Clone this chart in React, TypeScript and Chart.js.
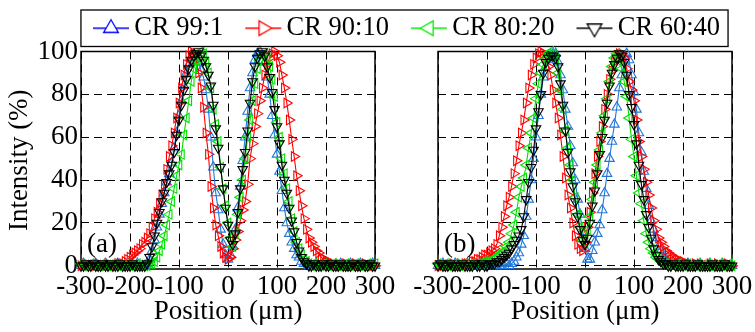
import { useEffect, useRef } from 'react';
import { Chart, registerables } from 'chart.js';

Chart.register(...registerables);

const FONT = '"Liberation Serif", "Times New Roman", serif';

const positions = [
  -300, -295, -290, -285, -280, -275, -270, -265, -260, -255,
  -250, -245, -240, -235, -230, -225, -220, -215, -210, -205,
  -200, -195, -190, -185, -180, -175, -170, -165, -160, -155,
  -150, -145, -140, -135, -130, -125, -120, -115, -110, -105,
  -100, -95, -90, -85, -80, -75, -70, -65, -60, -55,
  -50, -45, -40, -35, -30, -25, -20, -15, -10, -5,
  0, 5, 10, 15, 20, 25, 30, 35, 40, 45,
  50, 55, 60, 65, 70, 75, 80, 85, 90, 95,
  100, 105, 110, 115, 120, 125, 130, 135, 140, 145,
  150, 155, 160, 165, 170, 175, 180, 185, 190, 195,
  200, 205, 210, 215, 220, 225, 230, 235, 240, 245,
  250, 255, 260, 265, 270, 275, 280, 285, 290, 295,
  300,
];

const xTicks = [-300, -200, -100, 0, 100, 200, 300];
const yTicks = [0, 20, 40, 60, 80, 100];
const seriesLabels = ['CR 99:1', 'CR 90:10', 'CR 80:20', 'CR 60:40'];

// Panel (a)
const aCR99 = [
  0, 1, 0, 0, 0, 0, 1, 0, 0, 0,
  1, 0, 0, 0, 0, 1, 0, 0, 0, 0,
  0, 0, 0, 1, 0, 0, 0, 1, 3, 7,
  12, 18, 24, 29, 34, 39, 43, 48, 55, 62,
  70, 77, 84, 90, 94, 97, 98, 97, 95, 91,
  88, 82, 73, 60, 46, 34, 26, 17, 10, 5,
  3, 5, 9, 17, 27, 37, 49, 60, 72, 83,
  90, 96, 99, 100, 98, 95, 88, 80, 70, 61,
  52, 44, 35, 27, 20, 15, 11, 8, 5, 4,
  2, 1, 1, 0, 0, 0, 1, 0, 0, 0,
  0, 1, 0, 0, 0, 0, 1, 0, 0, 0,
  1, 0, 0, 0, 1, 0, 0, 0, 0, 1,
  0,
];
const aCR90 = [
  0, 0, 1, 0, 0, 0, 0, 1, 0, 0,
  0, 1, 0, 0, 0, 1, 1, 1, 2, 3,
  4, 5, 6, 7, 8, 10, 11, 13, 15, 18,
  22, 25, 29, 33, 38, 45, 51, 56, 62, 69,
  76, 83, 89, 94, 98, 100, 99, 96, 90, 83,
  74, 62, 52, 37, 27, 19, 14, 9, 6, 4,
  3, 4, 8, 12, 16, 21, 26, 30, 38, 50,
  57, 65, 71, 77, 83, 89, 94, 97, 99, 100,
  98, 95, 89, 83, 76, 68, 59, 51, 42, 35,
  28, 22, 17, 13, 11, 9, 7, 6, 4, 3,
  2, 2, 1, 1, 0, 1, 0, 0, 1, 0,
  0, 0, 1, 0, 0, 0, 1, 0, 0, 0,
  0,
];
const aCR80 = [
  1, 0, 0, 0, 1, 0, 0, 0, 0, 1,
  0, 0, 0, 1, 0, 0, 0, 0, 1, 0,
  0, 0, 0, 1, 0, 0, 0, 0, 1, 1,
  2, 4, 7, 10, 14, 19, 24, 30, 36, 42,
  47, 52, 61, 69, 77, 86, 92, 96, 98, 100,
  99, 95, 90, 83, 73, 66, 58, 46, 36, 28,
  20, 13, 9, 15, 24, 32, 40, 50, 60, 68,
  77, 85, 92, 96, 98, 99, 97, 93, 87, 79,
  67, 60, 50, 43, 36, 30, 22, 16, 11, 8,
  5, 3, 2, 1, 0, 1, 0, 0, 0, 1,
  0, 0, 0, 1, 0, 0, 0, 0, 1, 0,
  0, 0, 1, 0, 0, 0, 0, 1, 0, 0,
  1,
];
const aCR60 = [
  0, 0, 1, 0, 0, 1, 0, 0, 0, 1,
  0, 0, 1, 0, 0, 0, 1, 0, 0, 0,
  0, 1, 0, 0, 0, 0, 0, 1, 4, 9,
  14, 20, 25, 30, 34, 39, 43, 47, 53, 61,
  68, 75, 82, 87, 92, 96, 98, 99, 100, 98,
  96, 93, 89, 84, 75, 64, 55, 46, 36, 27,
  19, 12, 10, 15, 25, 36, 45, 53, 63, 76,
  86, 93, 97, 99, 100, 98, 93, 88, 81, 73,
  65, 57, 47, 40, 34, 27, 21, 16, 11, 7,
  4, 2, 1, 0, 0, 1, 0, 0, 0, 1,
  0, 0, 1, 0, 0, 0, 1, 0, 0, 0,
  0, 1, 0, 0, 0, 1, 0, 0, 1, 0,
  0,
];

// Panel (b)
const bCR99 = [
  0, 0, 1, 0, 0, 0, 0, 1, 0, 0,
  0, 0, 1, 0, 0, 0, 0, 1, 0, 0,
  0, 0, 1, 0, 0, 0, 0, 0, 1, 0,
  1, 2, 4, 6, 10, 14, 23, 31, 40, 50,
  60, 70, 80, 88, 93, 96, 98, 99, 99, 95,
  89, 82, 73, 65, 56, 48, 40, 31, 24, 16,
  8, 3, 3, 7, 11, 15, 19, 26, 34, 43,
  50, 58, 66, 74, 83, 89, 95, 99, 96, 89,
  81, 73, 62, 53, 44, 36, 28, 21, 17, 13,
  9, 7, 4, 3, 2, 1, 1, 0, 1, 0,
  0, 0, 1, 0, 0, 0, 0, 1, 0, 0,
  0, 1, 0, 0, 0, 0, 1, 0, 0, 0,
  0,
];
const bCR90 = [
  0, 1, 0, 0, 0, 0, 1, 0, 0, 1,
  0, 1, 1, 1, 2, 2, 3, 3, 4, 5,
  5, 6, 7, 8, 10, 14, 18, 23, 28, 32,
  37, 43, 49, 56, 62, 68, 76, 83, 89, 94,
  97, 99, 100, 99, 97, 93, 89, 82, 76, 69,
  61, 51, 41, 33, 27, 20, 14, 10, 8, 7,
  11, 18, 25, 34, 43, 51, 58, 65, 73, 80,
  87, 91, 95, 98, 99, 99, 97, 92, 86, 82,
  77, 68, 58, 51, 45, 39, 33, 27, 21, 17,
  13, 11, 9, 7, 6, 5, 4, 3, 3, 2,
  2, 1, 1, 1, 0, 1, 0, 1, 0, 0,
  0, 1, 0, 0, 1, 0, 0, 0, 1, 0,
  0,
];
const bCR80 = [
  1, 0, 0, 1, 0, 0, 0, 1, 0, 0,
  0, 1, 0, 0, 1, 0, 1, 1, 1, 2,
  2, 2, 3, 3, 4, 5, 6, 7, 9, 11,
  15, 19, 25, 32, 37, 41, 47, 55, 62, 69,
  78, 85, 90, 94, 97, 99, 100, 99, 97, 90,
  82, 73, 63, 55, 47, 40, 32, 24, 18, 12,
  11, 17, 23, 31, 39, 47, 54, 62, 70, 78,
  86, 93, 97, 99, 97, 92, 86, 79, 69, 59,
  51, 42, 34, 29, 21, 15, 11, 8, 6, 4,
  3, 2, 1, 1, 0, 1, 0, 0, 1, 0,
  0, 0, 1, 0, 0, 0, 1, 0, 0, 0,
  1, 0, 0, 0, 0, 1, 0, 0, 0, 1,
  0,
];
const bCR60 = [
  0, 1, 0, 0, 0, 1, 0, 0, 0, 0,
  1, 0, 0, 0, 0, 1, 0, 0, 1, 0,
  0, 1, 1, 1, 2, 2, 3, 4, 5, 6,
  8, 10, 12, 14, 17, 23, 31, 39, 46, 54,
  64, 72, 80, 90, 95, 97, 98, 98, 97, 93,
  85, 75, 63, 53, 44, 37, 30, 23, 17, 12,
  10, 13, 20, 28, 35, 43, 52, 60, 68, 76,
  84, 90, 94, 97, 99, 98, 95, 89, 80, 74,
  66, 57, 47, 38, 31, 24, 18, 13, 8, 5,
  3, 2, 1, 1, 0, 0, 1, 0, 0, 0,
  0, 1, 0, 0, 0, 0, 1, 0, 0, 0,
  0, 0, 1, 0, 0, 0, 0, 1, 0, 0,
  0,
];

const seriesColors = ['#2277d8', '#ff0000', '#00e000', '#000000'];
const legendColors = ['#0000ff', '#ff0000', '#00ee00', '#000000'];
const seriesRotation = [0, 90, -90, 180];
const drawOrder = [4, 3, 2, 1];

function legendMarker(color: string, rotation: number): HTMLCanvasElement {
  const c = document.createElement('canvas');
  c.width = 38;
  c.height = 22;
  const ctx = c.getContext('2d')!;
  ctx.strokeStyle = color;
  ctx.lineWidth = 1.3;
  ctx.beginPath();
  ctx.moveTo(1, 11);
  ctx.lineTo(37, 11);
  ctx.stroke();
  const r = 8.5;
  const rad0 = (rotation * Math.PI) / 180;
  ctx.beginPath();
  for (let k = 0; k < 3; k++) {
    const a = rad0 + (k * 2 * Math.PI) / 3;
    const px = 19 + Math.sin(a) * r;
    const py = 11 - Math.cos(a) * r;
    if (k === 0) ctx.moveTo(px, py);
    else ctx.lineTo(px, py);
  }
  ctx.closePath();
  ctx.fillStyle = '#ffffff';
  ctx.fill();
  ctx.stroke();
  return c;
}

function makeDatasets(panel: number[][]) {
  return panel.map((vals, k) => ({
    label: seriesLabels[k],
    data: positions.map((x, i) => ({ x, y: vals[i] })),
    borderColor: seriesColors[k],
    backgroundColor: 'rgba(0,0,0,0)',
    pointBackgroundColor: 'rgba(0,0,0,0)',
    pointBorderColor: seriesColors[k],
    pointStyle: 'triangle',
    pointRotation: seriesRotation[k],
    pointRadius: 5.5,
    pointBorderWidth: 1.1,
    borderWidth: 1.1,
    tension: 0,
    fill: false,
    clip: false,
    order: drawOrder[k],
  }));
}

const tickFont = { family: FONT, size: 27 };

function xScale() {
  return {
    type: 'linear',
    min: -300,
    max: 300,
    afterBuildTicks: (s: any) => {
      s.ticks = xTicks.map((v) => ({ value: v }));
    },
    afterFit: (s: any) => {
      s.height = 63;
    },
    ticks: { autoSkip: false, maxRotation: 0, minRotation: 0, padding: 2, color: '#000', font: tickFont },
    grid: { color: '#000', lineWidth: 1, drawTicks: false },
    border: { display: false, dash: [8, 5] },
    title: {
      display: true,
      text: 'Position (μm)',
      color: '#000',
      font: tickFont,
      padding: { top: 0, bottom: 4 },
    },
  };
}

function yScale(showLabels: boolean) {
  return {
    type: 'linear',
    min: -1.5,
    max: 100,
    afterBuildTicks: (s: any) => {
      s.ticks = yTicks.map((v) => ({ value: v }));
    },
    afterFit: (s: any) => {
      s.width = showLabels ? 81 : 0;
    },
    ticks: { display: showLabels, padding: 3, color: '#000', font: tickFont },
    grid: { color: '#000', lineWidth: 1, drawTicks: false },
    border: { display: false, dash: [8, 5] },
    title: {
      display: showLabels,
      text: 'Intensity (%)',
      color: '#000',
      font: tickFont,
      padding: { top: 4, bottom: 0 },
    },
  };
}

const framePlugin = {
  id: 'frame',
  beforeDatasetsDraw(chart: any) {
    const { ctx, chartArea } = chart;
    ctx.save();
    ctx.strokeStyle = '#000';
    ctx.lineWidth = 1.5;
    ctx.strokeRect(chartArea.left, chartArea.top, chartArea.right - chartArea.left, chartArea.bottom - chartArea.top);
    ctx.restore();
  },
};

function panelLabel(text: string) {
  return {
    id: 'panelLabel',
    afterDatasetsDraw(chart: any) {
      const { ctx, chartArea } = chart;
      ctx.save();
      ctx.font = `27px ${FONT}`;
      ctx.fillStyle = '#000';
      ctx.textAlign = 'left';
      ctx.textBaseline = 'middle';
      ctx.fillText(text, chartArea.left + 6, chartArea.bottom - 24);
      ctx.restore();
    },
  };
}

const legendBoxPlugin = {
  id: 'legendBox',
  afterDraw(chart: any) {
    const lg = chart.legend;
    const hb = lg && lg.legendHitBoxes;
    if (!hb || !hb.length) return;
    const first = hb[0];
    const last = hb[hb.length - 1];
    const ctx = chart.ctx;
    ctx.save();
    ctx.strokeStyle = '#000';
    ctx.lineWidth = 1.3;
    const left = first.left - 20;
    const right = last.left + last.width + 8;
    const top = first.top - 5;
    const bottom = first.top + first.height + 5;
    ctx.strokeRect(left, top, right - left, bottom - top);
    ctx.restore();
  },
};

export default function App() {
  const refA = useRef<HTMLCanvasElement>(null);
  const refB = useRef<HTMLCanvasElement>(null);

  useEffect(() => {
    Chart.defaults.font.family = FONT;
    const markers = seriesLabels.map((_, k) => legendMarker(legendColors[k], seriesRotation[k]));

    const chartA = new Chart(refA.current as HTMLCanvasElement, {
      type: 'line',
      data: { datasets: makeDatasets([aCR99, aCR90, aCR80, aCR60]) as any },
      options: {
        animation: false,
        responsive: false,
        events: [],
        layout: { padding: { top: -15, left: 0, right: 0, bottom: 0 } },
        scales: {
          x: xScale() as any,
          y: yScale(true) as any,
          yPad: {
            type: 'linear',
            position: 'right',
            display: true,
            ticks: { display: false },
            grid: { display: false, drawTicks: false },
            border: { display: false },
            afterFit: (s: any) => {
              s.width = 446;
            },
          } as any,
        },
        plugins: {
          tooltip: { enabled: false },
          legend: {
            display: true,
            position: 'top',
            align: 'center',
            labels: {
              usePointStyle: true,
              pointStyleWidth: 20,
              padding: 30,
              color: '#000',
              font: { family: FONT, size: 26.5 },
              generateLabels: () =>
                seriesLabels.map((t, k) => ({
                  text: t,
                  pointStyle: markers[k] as any,
                  fillStyle: 'rgba(0,0,0,0)',
                  strokeStyle: legendColors[k],
                  lineWidth: 0,
                  hidden: false,
                  datasetIndex: k,
                  fontColor: '#000',
                })),
            },
          },
        },
      },
      plugins: [framePlugin, panelLabel('(a)'), legendBoxPlugin],
    });

    const chartB = new Chart(refB.current as HTMLCanvasElement, {
      type: 'line',
      data: { datasets: makeDatasets([bCR99, bCR90, bCR80, bCR60]) as any },
      options: {
        animation: false,
        responsive: false,
        events: [],
        layout: { padding: { top: 51.5, left: 58, right: 28, bottom: 0 } },
        scales: {
          x: xScale() as any,
          y: yScale(false) as any,
        },
        plugins: {
          tooltip: { enabled: false },
          legend: { display: false },
        },
      },
      plugins: [framePlugin, panelLabel('(b)')],
    });

    return () => {
      chartA.destroy();
      chartB.destroy();
    };
  }, []);

  return (
    <div
      style={{
        position: 'fixed',
        left: 0,
        top: 0,
        width: 755,
        height: 332,
        overflow: 'hidden',
        background: '#ffffff',
      }}
    >
      <canvas ref={refA} width={821} height={332} style={{ position: 'absolute', left: 0, top: 0 }} />
      <canvas ref={refB} width={380} height={332} style={{ position: 'absolute', left: 380, top: 0 }} />
    </div>
  );
}
